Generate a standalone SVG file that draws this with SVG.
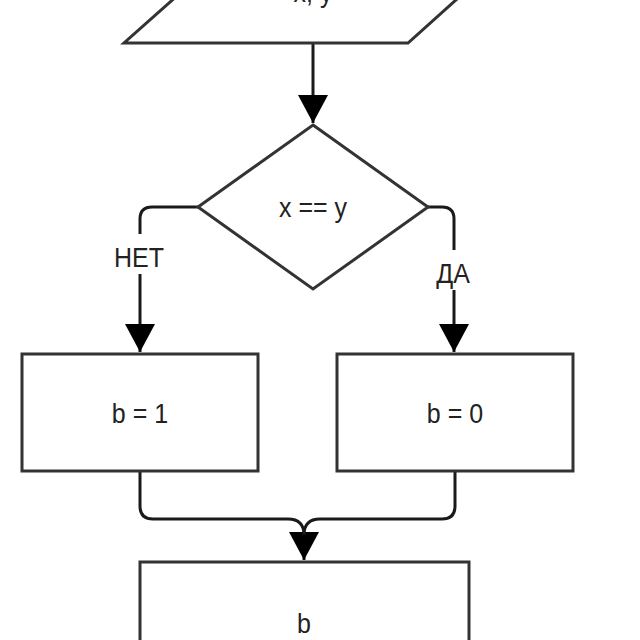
<svg xmlns="http://www.w3.org/2000/svg" width="640" height="640" viewBox="0 0 640 640">
  <style>
    .shape { fill: #ffffff; stroke: #333333; stroke-width: 3; }
    .edge { fill: none; stroke: #1a1a1a; stroke-width: 3; }
    .t { font-family: "Liberation Sans", Arial, sans-serif; font-size: 25px; fill: #222222; text-anchor: middle; }
    .lblbg { fill: #ffffff; }
  </style>
  <defs>
    <marker id="arrow" viewBox="0 0 28 30" refX="28" refY="15" markerWidth="28" markerHeight="30" markerUnits="userSpaceOnUse" orient="auto">
      <path d="M0,0 L28,15 L0,30 z" fill="#000000"/>
    </marker>
  </defs>
  <rect width="640" height="640" fill="#ffffff"/>

  <g id="connectors">
    <path class="edge" d="M313,43 L313,123" marker-end="url(#arrow)"/>
    <path class="edge" d="M198,207 L152,207 Q140,207 140,219 L140,352" marker-end="url(#arrow)"/>
    <path class="edge" d="M428,207 L442,207 Q454,207 454,219 L454,352" marker-end="url(#arrow)"/>
    <path class="edge" d="M140,471 L140,506 Q140,519 153,519 L288,519 Q304,519 304,535 L304,560" marker-end="url(#arrow)"/>
    <path class="edge" d="M455,471 L455,506 Q455,519 442,519 L320,519 Q304,519 304,535"/>
    <g id="label-net">
      <rect class="lblbg" x="112" y="234" width="56" height="40"/>
      <text class="t" transform="translate(139,267) scale(1,1.12)">НЕТ</text>
    </g>
    <g id="label-da">
      <rect class="lblbg" x="430" y="250" width="48" height="40"/>
      <text class="t" transform="translate(453,283) scale(1,1.12)">ДА</text>
    </g>
  </g>

  <g id="node-input">
    <polygon class="shape" points="223,-45 506,-45 408,43 124,43"/>
    <text class="t" transform="translate(313,2) scale(1,1.12)">x, y</text>
  </g>

  <g id="node-decision">
    <polygon class="shape" points="313,125 428,207 313,289 198,207"/>
    <text class="t" transform="translate(313,217) scale(1,1.12)">x == y</text>
  </g>

  <g id="node-b1">
    <rect class="shape" x="22" y="354" width="236" height="117"/>
    <text class="t" transform="translate(140,423) scale(1,1.12)">b = 1</text>
  </g>

  <g id="node-b0">
    <rect class="shape" x="337" y="354" width="236" height="117"/>
    <text class="t" transform="translate(455,423) scale(1,1.12)">b = 0</text>
  </g>

  <g id="node-output">
    <rect class="shape" x="140" y="562" width="329" height="117"/>
    <text class="t" transform="translate(304,633) scale(1,1.12)">b</text>
  </g>
</svg>
